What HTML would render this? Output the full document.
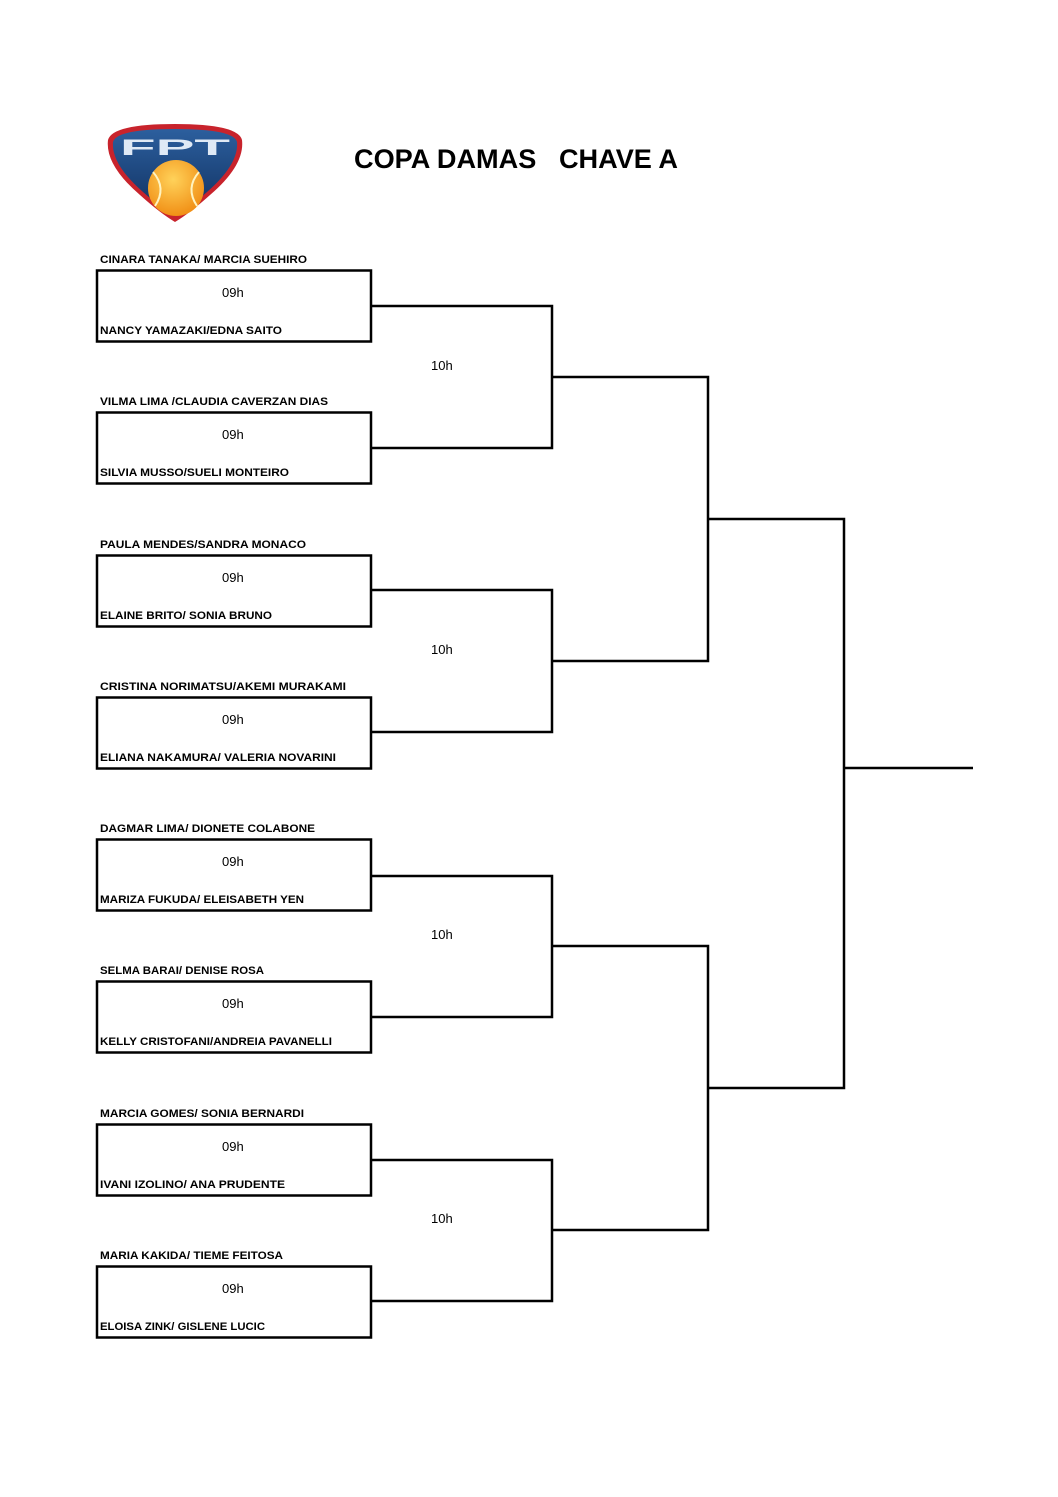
<!DOCTYPE html>
<html><head><meta charset="utf-8"><style>
html,body{margin:0;padding:0;background:#fff;}
svg{display:block;}
text{font-family:"Liberation Sans",sans-serif;fill:#000;}
.l{font-size:11px;font-weight:bold;}
.t{font-size:13px;}
</style></head><body>
<svg width="1058" height="1497" viewBox="0 0 1058 1497" xmlns="http://www.w3.org/2000/svg">
<defs>
<linearGradient id="sh" x1="0" y1="0" x2="0" y2="1"><stop offset="0" stop-color="#2c5f9e"/><stop offset="1" stop-color="#10305f"/></linearGradient>
<radialGradient id="ball" cx="0.45" cy="0.35" r="0.7"><stop offset="0" stop-color="#ffd25a"/><stop offset="1" stop-color="#f08a10"/></radialGradient>
</defs>
<path d="M108,140 Q112,124 175,124 Q238,124 242,140 Q245,165 210,195 Q190,213 175,222 Q160,213 140,195 Q105,165 108,140 Z" fill="#c8232c"/>
<path d="M113,142 Q116,129 175,129 Q234,129 237,142 Q239,164 207,192 Q189,208 175,216 Q161,208 143,192 Q111,164 113,142 Z" fill="url(#sh)"/>
<circle cx="176" cy="188" r="28" fill="url(#ball)"/>
<path d="M153,172 Q167,188 155,206 M199,172 Q185,188 197,206" stroke="#fff3c0" stroke-width="2" fill="none"/>
<text x="120" y="155" font-size="22" font-weight="bold" style="fill:#dfe9f5" textLength="110" lengthAdjust="spacingAndGlyphs">FPT</text>
<text x="354" y="168" font-size="27" font-weight="bold" textLength="324" lengthAdjust="spacingAndGlyphs">COPA DAMAS&#160;&#160;&#160;CHAVE A</text>
<g fill="none" stroke="#000" stroke-width="2.5">
<rect x="97" y="270.5" width="274" height="71"/>
<rect x="97" y="412.5" width="274" height="71"/>
<rect x="97" y="555.5" width="274" height="71"/>
<rect x="97" y="697.5" width="274" height="71"/>
<rect x="97" y="839.5" width="274" height="71"/>
<rect x="97" y="981.5" width="274" height="71"/>
<rect x="97" y="1124.5" width="274" height="71"/>
<rect x="97" y="1266.5" width="274" height="71"/>
<polyline points="371,306 552,306 552,448 371,448"/>
<polyline points="371,590 552,590 552,732 371,732"/>
<polyline points="371,876 552,876 552,1017 371,1017"/>
<polyline points="371,1160 552,1160 552,1301 371,1301"/>
<polyline points="552,377 708,377 708,661 552,661"/>
<polyline points="552,946 708,946 708,1230 552,1230"/>
<polyline points="708,519 844,519 844,1088 708,1088"/>
<line x1="844" y1="768" x2="973" y2="768"/>
</g>
<g>
<text x="222" y="297" class="t">09h</text><text x="222" y="439" class="t">09h</text>
<text x="222" y="582" class="t">09h</text><text x="222" y="724" class="t">09h</text>
<text x="222" y="866" class="t">09h</text><text x="222" y="1008" class="t">09h</text>
<text x="222" y="1151" class="t">09h</text><text x="222" y="1293" class="t">09h</text>
<text x="431" y="370" class="t">10h</text><text x="431" y="654" class="t">10h</text>
<text x="431" y="939" class="t">10h</text><text x="431" y="1223" class="t">10h</text>
</g>
<g>
<text class="l" x="100" y="263" textLength="207" lengthAdjust="spacingAndGlyphs">CINARA TANAKA/ MARCIA SUEHIRO</text>
<text class="l" x="100" y="334" textLength="182" lengthAdjust="spacingAndGlyphs">NANCY YAMAZAKI/EDNA SAITO</text>
<text class="l" x="100" y="405" textLength="228" lengthAdjust="spacingAndGlyphs">VILMA LIMA /CLAUDIA CAVERZAN DIAS</text>
<text class="l" x="100" y="476" textLength="189" lengthAdjust="spacingAndGlyphs">SILVIA MUSSO/SUELI MONTEIRO</text>
<text class="l" x="100" y="548" textLength="206" lengthAdjust="spacingAndGlyphs">PAULA MENDES/SANDRA MONACO</text>
<text class="l" x="100" y="619" textLength="172" lengthAdjust="spacingAndGlyphs">ELAINE BRITO/ SONIA BRUNO</text>
<text class="l" x="100" y="690" textLength="246" lengthAdjust="spacingAndGlyphs">CRISTINA NORIMATSU/AKEMI MURAKAMI</text>
<text class="l" x="100" y="761" textLength="236" lengthAdjust="spacingAndGlyphs">ELIANA NAKAMURA/ VALERIA NOVARINI</text>
<text class="l" x="100" y="832" textLength="215" lengthAdjust="spacingAndGlyphs">DAGMAR LIMA/ DIONETE COLABONE</text>
<text class="l" x="100" y="903" textLength="204" lengthAdjust="spacingAndGlyphs">MARIZA FUKUDA/ ELEISABETH YEN</text>
<text class="l" x="100" y="974" textLength="164" lengthAdjust="spacingAndGlyphs">SELMA BARAI/ DENISE ROSA</text>
<text class="l" x="100" y="1045" textLength="232" lengthAdjust="spacingAndGlyphs">KELLY CRISTOFANI/ANDREIA PAVANELLI</text>
<text class="l" x="100" y="1117" textLength="204" lengthAdjust="spacingAndGlyphs">MARCIA GOMES/ SONIA BERNARDI</text>
<text class="l" x="100" y="1188" textLength="185" lengthAdjust="spacingAndGlyphs">IVANI IZOLINO/ ANA PRUDENTE</text>
<text class="l" x="100" y="1259" textLength="183" lengthAdjust="spacingAndGlyphs">MARIA KAKIDA/ TIEME FEITOSA</text>
<text class="l" x="100" y="1330" textLength="165" lengthAdjust="spacingAndGlyphs">ELOISA ZINK/ GISLENE LUCIC</text>
</g>
</svg>
</body></html>
